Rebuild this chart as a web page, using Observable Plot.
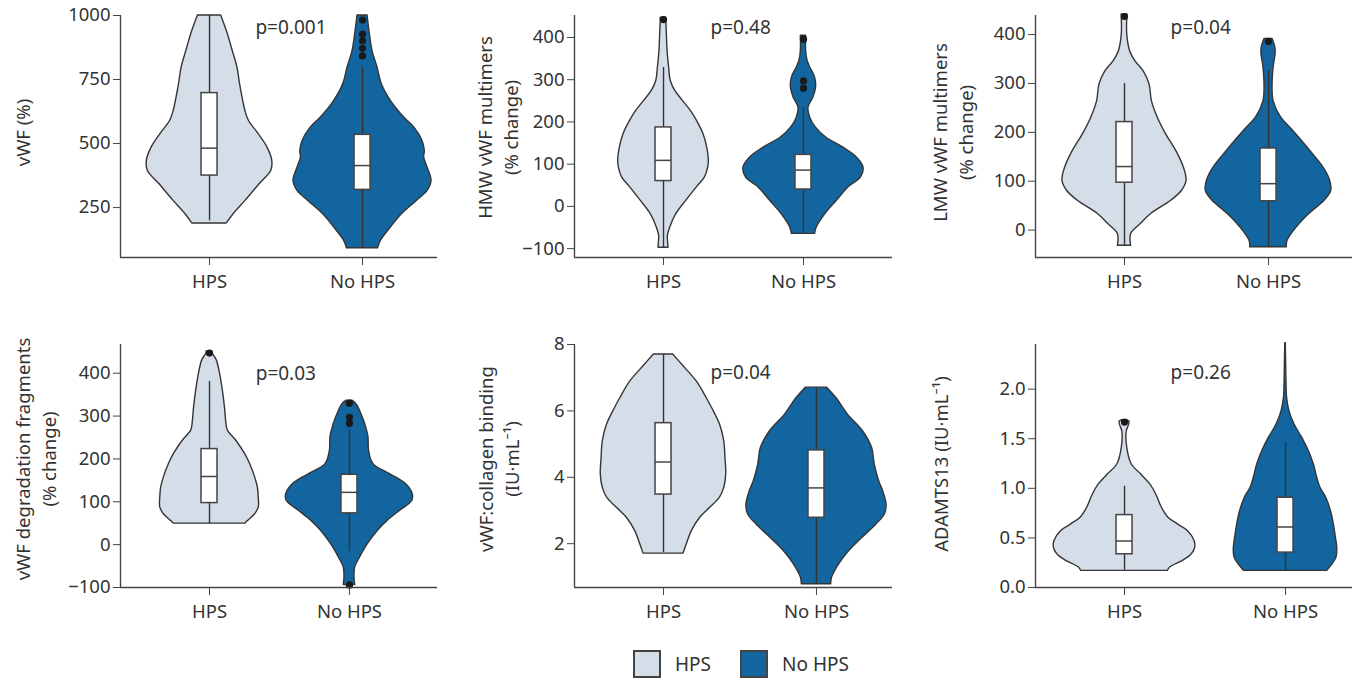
<!DOCTYPE html>
<html><head><meta charset="utf-8">
<script src="https://cdn.jsdelivr.net/npm/d3@7"></script>
<script src="https://cdn.jsdelivr.net/npm/@observablehq/plot@0.6"></script>
<style>
body{margin:0;background:#fff;font-family:"Noto Sans",sans-serif;}
#root{position:relative;width:1360px;height:681px;overflow:hidden;background:#fff}
.panel{position:absolute}
#legend{position:absolute;top:650px;left:633px;display:flex;align-items:center;font-family:"Noto Sans",sans-serif;font-size:19px;color:#333}
.sw{width:28px;height:28px;box-sizing:border-box;border:2px solid #444;margin-right:14px}
.lab{margin-right:29px}
</style></head>
<body><div id="root"><div id="legend"></div></div>
<script>
// ---------- data ----------
const groups = ["HPS", "No HPS"];
const groupColors = ["#d5dde9", "#1365a0"];

// violin profiles: [value, half-width in category units]
const vwfHPS = [[1000,0.076],[927,0.12],[873,0.146],[795,0.183],[730,0.20],[626,0.235],[589,0.257],[536,0.322],[484,0.379],[432,0.41],[393,0.403],[341,0.327],[276,0.235],[224,0.157],[188,0.113]];
const vwfNoHPS = [[1000,0.033],[927,0.048],[862,0.065],[797,0.098],[732,0.126],[667,0.185],[602,0.272],[563,0.338],[510,0.392],[471,0.407],[445,0.403],[406,0.425],[354,0.451],[315,0.425],[276,0.355],[224,0.257],[172,0.185],[120,0.12],[91,0.102]];
const hmwHPS = [[447,0.02],[440,0.02],[408,0.024],[368,0.029],[329,0.04],[297,0.052],[274,0.083],[250,0.138],[226,0.195],[202,0.24],[171,0.286],[139,0.312],[108,0.324],[92,0.319],[68,0.295],[45,0.238],[13,0.162],[-19,0.09],[-50,0.048],[-70,0.031],[-82,0.032],[-98,0.036]];
const hmwNoHPS = [[404,0.019],[368,0.019],[345,0.029],[329,0.048],[305,0.083],[282,0.09],[258,0.071],[234,0.036],[210,0.048],[187,0.088],[163,0.162],[139,0.286],[116,0.381],[92,0.429],[68,0.41],[45,0.321],[13,0.238],[-19,0.155],[-50,0.095],[-65,0.083]];
const lmwHPS = [[441,0.02],[434,0.019],[400,0.019],[366,0.039],[346,0.074],[325,0.132],[298,0.174],[264,0.19],[230,0.231],[196,0.289],[162,0.359],[128,0.412],[101,0.431],[80,0.398],[60,0.324],[33,0.185],[12,0.111],[-8,0.046],[-32,0.046]];
const lmwNoHPS = [[391,0.028],[380,0.042],[366,0.05],[332,0.035],[298,0.028],[264,0.035],[230,0.088],[210,0.15],[189,0.213],[162,0.29],[128,0.382],[101,0.428],[80,0.435],[60,0.389],[33,0.283],[6,0.197],[-22,0.132],[-35,0.127]];
const degHPS = [[451,0.02],[445,0.024],[430,0.052],[398,0.076],[360,0.095],[321,0.11],[282,0.121],[266,0.131],[243,0.19],[211,0.255],[188,0.29],[157,0.326],[134,0.345],[110,0.352],[87,0.352],[71,0.326],[55,0.274],[49,0.255]];
const degNoHPS = [[336,0.02],[328,0.05],[297,0.095],[266,0.126],[250,0.136],[219,0.14],[188,0.171],[163,0.298],[141,0.405],[118,0.452],[102,0.448],[79,0.362],[56,0.274],[32,0.202],[1,0.131],[-30,0.076],[-53,0.041],[-77,0.036],[-94,0.041]];
const colHPS = [[7.70,0.063],[7.38,0.124],[6.88,0.218],[6.38,0.283],[6.08,0.318],[5.58,0.37],[5.08,0.397],[4.58,0.405],[4.08,0.41],[3.68,0.397],[3.38,0.368],[3.08,0.305],[2.78,0.24],[2.38,0.185],[1.98,0.152],[1.70,0.131]];
const colNoHPS = [[6.70,0.07],[6.38,0.131],[5.88,0.207],[5.38,0.305],[4.88,0.364],[4.38,0.381],[3.88,0.41],[3.58,0.436],[3.18,0.458],[2.88,0.447],[2.58,0.392],[2.18,0.301],[1.78,0.214],[1.38,0.148],[0.98,0.102],[0.78,0.096]];
const adaHPS = [[1.685,0.02],[1.668,0.031],[1.625,0.025],[1.575,0.014],[1.407,0.017],[1.24,0.045],[1.139,0.104],[1.039,0.16],[0.938,0.197],[0.804,0.232],[0.704,0.273],[0.637,0.331],[0.57,0.393],[0.469,0.435],[0.402,0.439],[0.335,0.418],[0.268,0.362],[0.201,0.284],[0.168,0.269]];
const adaNoHPS = [[2.462,0.002],[2.446,0.002],[2.245,0.004],[2.077,0.006],[1.91,0.01],[1.776,0.025],[1.642,0.056],[1.508,0.104],[1.374,0.145],[1.24,0.176],[1.106,0.197],[1.005,0.217],[0.905,0.253],[0.771,0.282],[0.637,0.3],[0.503,0.313],[0.402,0.321],[0.302,0.317],[0.218,0.284],[0.168,0.259]];

// box stats: [lower whisker, Q1, median, Q3, upper whisker]
const vwfStatsHPS = [198, 375, 482, 697, 1000];
const vwfStatsNoHPS = [91, 319, 414, 534, 797];
const hmwStatsHPS = [-98, 60, 109, 187, 329];
const hmwStatsNoHPS = [-65, 40, 86, 122, 234];
const lmwStatsHPS = [-32, 97, 130, 221, 300];
const lmwStatsNoHPS = [-35, 59, 95, 167, 327];
const degStatsHPS = [49, 97, 159, 223, 381];
const degStatsNoHPS = [-16, 73, 122, 163, 268];
const colStatsHPS = [1.73, 3.48, 4.46, 5.63, 7.70];
const colStatsNoHPS = [0.78, 2.78, 3.68, 4.81, 6.70];
const adaStatsHPS = [0.174, 0.335, 0.469, 0.73, 1.02];
const adaStatsNoHPS = [0.168, 0.352, 0.61, 0.905, 1.464];

// outliers
const vwfOutHPS = [], vwfOutNoHPS = [982, 927, 901, 872, 842];
const hmwOutHPS = [442], hmwOutNoHPS = [396, 297, 280];
const lmwOutHPS = [437], lmwOutNoHPS = [386];
const degOutHPS = [447], degOutNoHPS = [330, 297, 283, -94];
const colOutHPS = [], colOutNoHPS = [];
const adaOutHPS = [1.668], adaOutNoHPS = [];

// labels, p-values, tick values
const yLabels = ["vWF (%)", "HMW vWF multimers\n(% change)", "LMW vWF multimers\n(% change)", "vWF degradation fragments\n(% change)", "vWF:collagen binding\n(IU·mL⁻¹)", "ADAMTS13 (IU·mL⁻¹)"];
const pValues = ["p=0.001", "p=0.48", "p=0.04", "p=0.03", "p=0.04", "p=0.26"];
const vwfTicks = [250, 500, 750, 1000];
const hmwTicks = [-100, 0, 100, 200, 300, 400];
const lmwTicks = [0, 100, 200, 300, 400];
const degTicks = [-100, 0, 100, 200, 300, 400];
const colTicks = [2, 4, 6, 8];
const adaTicks = [0, 0.5, 1, 1.5, 2];

// ---------- layout ----------
const panels = [
  {v:[vwfHPS,vwfNoHPS], s:[vwfStatsHPS,vwfStatsNoHPS], o:[vwfOutHPS,vwfOutNoHPS], ticks:vwfTicks, fmt:d3.format("d"),
   yDomain:[55,1000], xDomain:[-0.582,1.49], left:0, top:0, width:450, mL:120, mR:13, mT:15, mB:43, sp:153, pxy:[0.30,952], ldx:-99, ldy:-4},
  {v:[hmwHPS,hmwNoHPS], s:[hmwStatsHPS,hmwStatsNoHPS], o:[hmwOutHPS,hmwOutNoHPS], ticks:hmwTicks, fmt:null,
   yDomain:[-121,452], xDomain:[-0.636,1.636], left:455, top:0, width:450, mL:119, mR:13, mT:15, mB:43, sp:140, pxy:[0.336,422], ldx:-78, ldy:-9},
  {v:[lmwHPS,lmwNoHPS], s:[lmwStatsHPS,lmwStatsNoHPS], o:[lmwOutHPS,lmwOutNoHPS], ticks:lmwTicks, fmt:null,
   yDomain:[-56,439], xDomain:[-0.618,1.583], left:905, top:0, width:455, mL:130, mR:8, mT:15, mB:43, sp:144, pxy:[0.32,414], ldx:-84, ldy:-4},
  {v:[degHPS,degNoHPS], s:[degStatsHPS,degStatsNoHPS], o:[degOutHPS,degOutNoHPS], ticks:degTicks, fmt:null,
   yDomain:[-100,467], xDomain:[-0.636,1.629], left:0, top:330, width:450, mL:120, mR:13, mT:14, mB:43, sp:140, pxy:[0.33,399], ldx:-86, ldy:-7},
  {v:[colHPS,colNoHPS], s:[colStatsHPS,colStatsNoHPS], o:[colOutHPS,colOutNoHPS], ticks:colTicks, fmt:d3.format("d"),
   yDomain:[0.68,8], xDomain:[-0.582,1.497], left:455, top:330, width:450, mL:119, mR:13, mT:14, mB:43, sp:153, pxy:[0.307,7.13], ldx:-77, ldy:-7},
  {v:[adaHPS,adaNoHPS], s:[adaStatsHPS,adaStatsNoHPS], o:[adaOutHPS,adaOutNoHPS], ticks:adaTicks, fmt:d3.format(".1f"),
   yDomain:[0,2.45], xDomain:[-0.553,1.416], left:905, top:330, width:455, mL:130, mR:8, mT:14, mB:43, sp:161, pxy:[0.286,2.16], ldx:-96, ldy:-2}
];

const ink = "#333";
const root = document.getElementById("root");

panels.forEach((P, k) => {
  const bw = 8 / P.sp;
  const marks = [];
  groups.forEach((g, i) => {
    marks.push(Plot.areaX(P.v[i], {
      y: d => d[0], x1: d => i - d[1], x2: d => i + d[1],
      fill: groupColors[i], stroke: "#353535", strokeWidth: 1.4, curve: "catmull-rom"
    }));
  });
  const statRows = groups.map((g, i) => ({i, lo: P.s[i][0], q1: P.s[i][1], med: P.s[i][2], q3: P.s[i][3], hi: P.s[i][4]}));
  marks.push(Plot.ruleX(statRows, {x: "i", y1: "lo", y2: "hi", stroke: ink, strokeWidth: 1.4}));
  marks.push(Plot.rect(statRows, {x1: d => d.i - bw, x2: d => d.i + bw, y1: "q1", y2: "q3", fill: "white", stroke: "#444", strokeWidth: 1.5}));
  marks.push(Plot.ruleY(statRows, {y: "med", x1: d => d.i - bw, x2: d => d.i + bw, stroke: "#444", strokeWidth: 1.5}));
  const outs = groups.flatMap((g, i) => P.o[i].map(v => ({i, v})));
  marks.push(Plot.dot(outs, {x: "i", y: "v", r: 3.6, fill: "#1a1a1a", stroke: "none"}));
  // axes
  marks.push(Plot.ruleX([P.xDomain[0]], {stroke: "#444", strokeWidth: 1.4}));
  marks.push(Plot.ruleY([P.yDomain[0]], {stroke: "#444", strokeWidth: 1.4}));
  marks.push(Plot.axisY({ticks: P.ticks, tickFormat: P.fmt ?? undefined, tickSize: 7, tickPadding: 3, label: null, stroke: "#444"}));
  marks.push(Plot.axisX({ticks: [0, 1], tickFormat: i => groups[i], tickSize: 8, tickPadding: 9, label: null, stroke: "#444"}));
  marks.push(Plot.text([pValues[k]], {x: P.pxy[0], y: P.pxy[1], text: d => d, textAnchor: "start", fontSize: 19, fill: ink}));
  marks.push(Plot.text([yLabels[k]], {frameAnchor: "left", textAnchor: "middle", lineAnchor: "middle", rotate: -90, dx: P.ldx, dy: P.ldy, text: d => d, fontSize: 18.5, lineHeight: 1.42, fill: ink}));

  const svg = Plot.plot({
    width: P.width, height: 300,
    marginLeft: P.mL, marginRight: P.mR, marginTop: P.mT, marginBottom: P.mB,
    x: {domain: P.xDomain},
    y: {domain: P.yDomain},
    style: {fontFamily: "Noto Sans, sans-serif", fontSize: "18.5px", color: ink, background: "transparent", overflow: "visible"},
    marks
  });
  svg.classList.add("panel");
  svg.style.left = P.left + "px";
  svg.style.top = P.top + "px";
  svg.style.position = "absolute";
  root.appendChild(svg);
});

// legend
const legend = document.getElementById("legend");
groups.forEach((g, i) => {
  const sw = document.createElement("div");
  sw.className = "sw";
  sw.style.background = groupColors[i];
  const t = document.createElement("span");
  t.className = "lab";
  t.textContent = g;
  legend.appendChild(sw);
  legend.appendChild(t);
});
</script>
</body></html>
